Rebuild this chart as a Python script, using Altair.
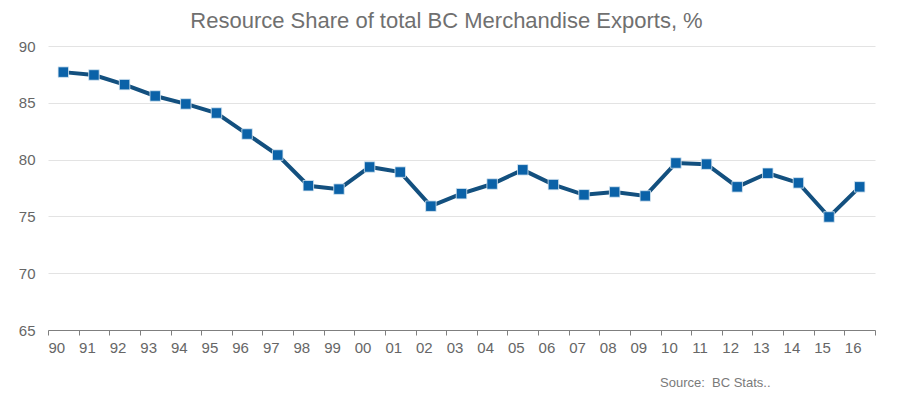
import altair as alt
import pandas as pd

years = ["90", "91", "92", "93", "94", "95", "96", "97", "98", "99",
         "00", "01", "02", "03", "04", "05", "06", "07", "08", "09",
         "10", "11", "12", "13", "14", "15", "16"]
share = [87.7, 87.45, 86.6, 85.6, 84.9, 84.1, 82.25, 80.4, 77.7, 77.4,
         79.35, 78.9, 75.9, 77.0, 77.85, 79.1, 77.8, 76.9, 77.15, 76.8,
         79.7, 79.6, 77.6, 78.8, 77.95, 74.95, 77.6]
y_ticks = [65, 70, 75, 80, 85, 90]
title_text = "Resource Share of total BC Merchandise Exports, %"
source_text = "Source:\u00a0 BC Stats.."

df = pd.DataFrame({"year": years, "share": share})

x_enc = alt.X("year:N", sort=years, title=None,
              scale=alt.Scale(paddingInner=0, paddingOuter=0),
              axis=alt.Axis(labelAngle=0, tickBand="extent", tickSize=5,
                            tickColor="#7f7f7f", domainColor="#7f7f7f",
                            labelColor="#666666", labelFontSize=15,
                            labelFont="Liberation Sans", labelPadding=5,
                            labelOffset=-7, grid=False))
y_enc = alt.Y("share:Q", title=None,
              scale=alt.Scale(domain=[65, 90], nice=False, zero=False),
              axis=alt.Axis(values=y_ticks, domain=False, ticks=False,
                            labelColor="#666666", labelFontSize=15,
                            labelFont="Liberation Sans", labelPadding=13,
                            gridColor="#e3e3e3", gridWidth=1))

line = alt.Chart(df).mark_line(color="#13507f", strokeWidth=4).encode(x=x_enc, y=y_enc)
pts = alt.Chart(df).mark_point(shape="square", filled=True, size=110,
                               color="#0b62a8", stroke="#dbe8f3",
                               strokeWidth=0.8, opacity=1).encode(x=x_enc, y=y_enc)
src = alt.Chart(pd.DataFrame({"t": [source_text]})).mark_text(
    align="left", baseline="alphabetic", fontSize=13, color="#7a7a7a",
    font="Liberation Sans").encode(text="t:N", x=alt.value(612), y=alt.value(341))

chart = alt.layer(line, pts, src).properties(
    width=827, height=284,
    autosize=alt.AutoSizeParams(type="none"),
    padding={"left": 48, "top": 46, "right": 25, "bottom": 70},
    title=alt.TitleParams(title_text, fontSize=22, color="#707070",
                          font="Liberation Sans", fontWeight="normal",
                          anchor="middle", dx=-15, offset=6),
    background="white",
).configure_view(stroke=None)

chart.save("out.html", embed_options={"renderer": "svg", "actions": False})
